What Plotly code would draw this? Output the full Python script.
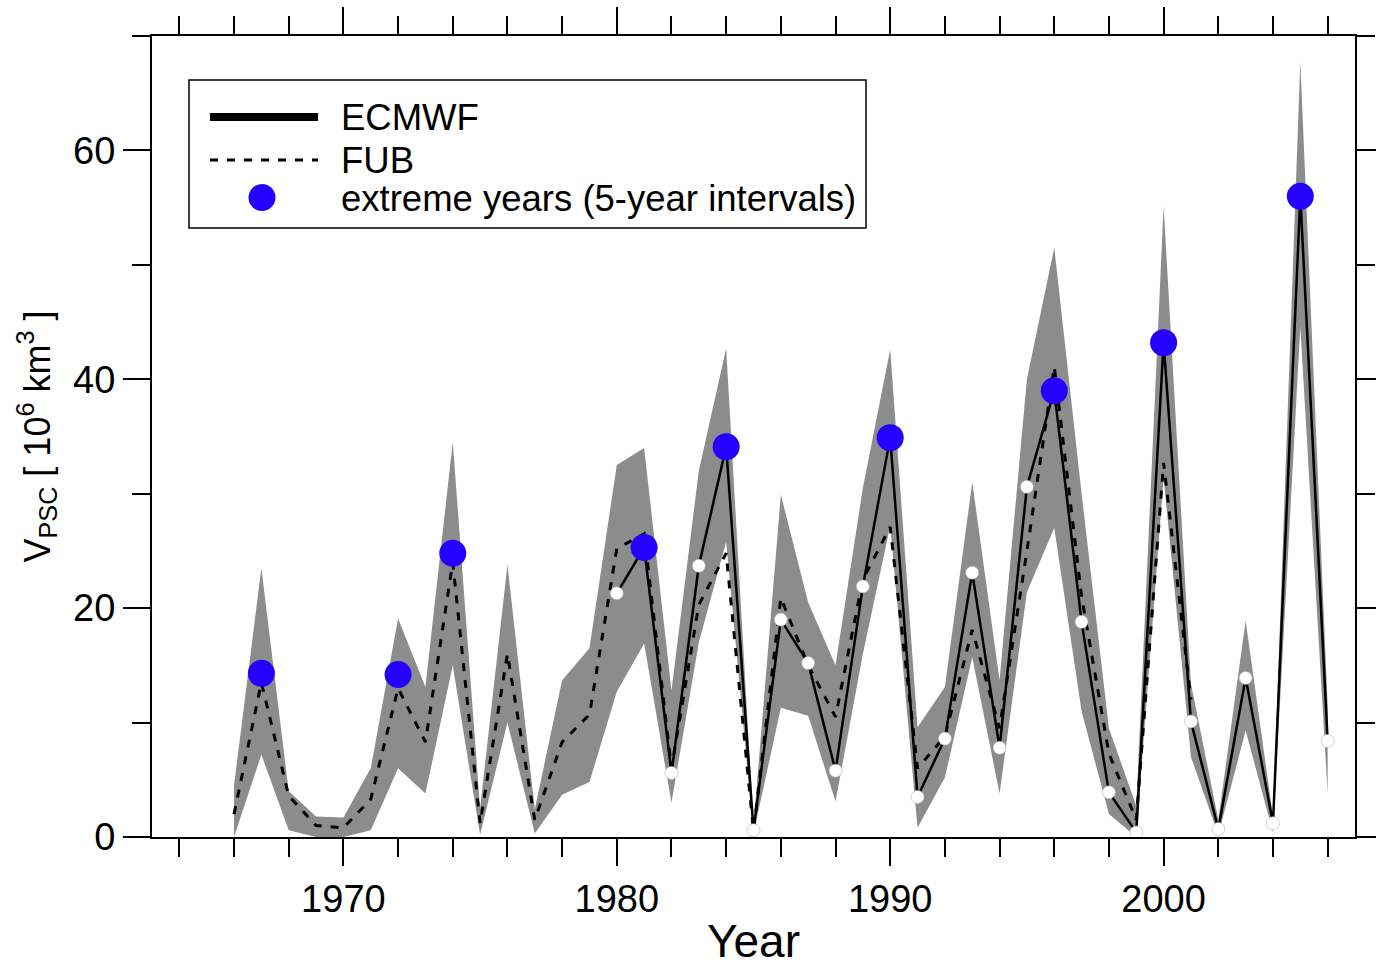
import plotly.graph_objects as go

# ---------------- data ----------------
band_years = list(range(1966, 2007))
band_upper = [4.5, 23.5, 4.0, 1.8, 1.7, 6.0, 19.1, 13.1, 34.5, 2.5,
              23.8, 2.4, 13.7, 16.5, 32.5, 34.0, 12.8, 32.0, 42.7, 1.0,
              29.9, 20.5, 15.0, 30.5, 42.6, 9.6, 13.1, 31.0, 13.7, 40.0,
              51.5, 30.0, 9.5, 2.7, 55.1, 13.4, 1.5, 18.9, 1.8, 67.7, 11.5]
band_lower = [0.0, 7.2, 0.6, 0.0, 0.0, 0.6, 6.0, 3.8, 15.0, 0.2,
              10.0, 0.3, 3.7, 4.8, 12.7, 16.9, 3.0, 17.0, 25.8, 0.3,
              11.3, 10.6, 3.1, 16.0, 27.2, 0.8, 5.2, 15.7, 3.8, 21.4,
              27.0, 11.0, 2.0, 0.0, 31.4, 7.0, 0.2, 9.3, 0.4, 44.6, 3.8]

fub_years = list(range(1966, 2002))
fub_values = [2.0, 13.5, 3.6, 1.0, 0.8, 3.3, 13.0, 8.3, 24.0, 1.2,
              16.0, 1.5, 8.3, 10.7, 25.2, 26.5, 6.0, 20.3, 24.8, 0.5,
              20.9, 15.0, 10.5, 22.5, 27.1, 6.0, 8.8, 18.1, 9.5, 25.0,
              41.1, 21.0, 7.3, 1.5, 32.7, 12.0]

ecmwf_years = list(range(1980, 2007))
ecmwf_values = [21.3, 25.3, 5.6, 23.7, 34.1, 0.6, 19.0, 15.2, 5.8, 21.9,
                34.9, 3.5, 8.6, 23.1, 7.8, 30.6, 39.0, 18.8, 3.9, 0.4,
                43.2, 10.1, 0.7, 13.9, 1.2, 56.0, 8.4]

extreme_years = [1967, 1972, 1974, 1981, 1984, 1990, 1996, 2000, 2005]
extreme_values = [14.3, 14.2, 24.8, 25.3, 34.1, 34.9, 39.0, 43.2, 56.0]

x_tick_vals = [1970, 1980, 1990, 2000]
y_tick_vals = [0, 20, 40, 60]

legend_labels = ["ECMWF", "FUB", "extreme years (5-year intervals)"]

# ---------------- figure ----------------
FONT = "Liberation Sans, Arial, Helvetica, sans-serif"
BLUE = "#2600ff"
GRAY = "#8c8c8c"

fig = go.Figure()

# spread band
fig.add_trace(go.Scatter(x=band_years, y=band_lower, mode="lines",
                         line=dict(width=0, color=GRAY), showlegend=False,
                         hoverinfo="skip"))
fig.add_trace(go.Scatter(x=band_years, y=band_upper, mode="lines",
                         line=dict(width=0, color=GRAY), fill="tonexty",
                         fillcolor=GRAY, showlegend=False, hoverinfo="skip"))

# FUB dashed
fig.add_trace(go.Scatter(x=fub_years, y=fub_values, mode="lines", name="FUB",
                         line=dict(color="black", width=3, dash="8px,9px"),
                         showlegend=False))

# ECMWF solid
fig.add_trace(go.Scatter(x=ecmwf_years, y=ecmwf_values, mode="lines",
                         name="ECMWF", line=dict(color="black", width=2.5),
                         showlegend=False))

# white dots (non-extreme ECMWF years)
wx = [y for y in ecmwf_years if y not in extreme_years]
wy = [v for y, v in zip(ecmwf_years, ecmwf_values) if y not in extreme_years]
fig.add_trace(go.Scatter(x=wx, y=wy, mode="markers",
                         marker=dict(color="white", size=13,
                                     line=dict(color="#b0b0b0", width=0.6)),
                         showlegend=False))

# extreme years
fig.add_trace(go.Scatter(x=extreme_years, y=extreme_values, mode="markers",
                         name="extreme years (5-year intervals)",
                         marker=dict(color=BLUE, size=27, line=dict(width=0)),
                         showlegend=False))

# ---------------- manual legend ----------------
L, R, T, B = 152, 1355, 36, 837
W, H = R - L, B - T


def px(xp):
    return (xp - L) / W


def py(yp):
    return (B - yp) / H


shapes = [
    dict(type="rect", xref="paper", yref="paper", x0=px(189), x1=px(866),
         y0=py(228), y1=py(80), line=dict(color="black", width=1.5),
         fillcolor="white", layer="above"),
    dict(type="line", xref="paper", yref="paper", x0=px(210), x1=px(318),
         y0=py(117), y1=py(117), line=dict(color="black", width=8)),
    dict(type="line", xref="paper", yref="paper", x0=px(210), x1=px(318),
         y0=py(160), y1=py(160), line=dict(color="black", width=3, dash="8px,9px")),
    dict(type="circle", xref="paper", yref="paper", x0=px(248.5), x1=px(275.5),
         y0=py(211), y1=py(184), line=dict(width=0), fillcolor=BLUE),
]
annotations = []
for lab, yy in zip(legend_labels, [117, 160, 198]):
    annotations.append(dict(text=lab, xref="paper", yref="paper", x=px(339),
                            y=py(yy), xanchor="left", yanchor="middle",
                            showarrow=False,
                            font=dict(size=36.5, color="black", family=FONT)))

fig.update_layout(
    width=1376, height=967, autosize=False,
    margin=dict(l=L, r=1376 - R, t=T, b=967 - B, pad=0),
    paper_bgcolor="white", plot_bgcolor="white",
    font=dict(family=FONT, color="black"),
    shapes=shapes, annotations=annotations, showlegend=False,
    xaxis=dict(range=[1963, 2007], tickmode="array", tickvals=x_tick_vals,
               ticktext=[str(v) for v in x_tick_vals],
               ticks="outside", ticklen=27, tickwidth=2, tickcolor="black",
               minor=dict(dtick=2, tick0=1964, ticks="outside", ticklen=18,
                          tickwidth=2, tickcolor="black", showgrid=False),
               showline=True, linecolor="black", linewidth=2, mirror="ticks",
               showgrid=False, zeroline=False, automargin=False,
               tickfont=dict(size=38, family=FONT),
               title=dict(text="Year", font=dict(size=46, family=FONT), standoff=12)),
    yaxis=dict(range=[0, 70], tickmode="array", tickvals=y_tick_vals,
               ticktext=[str(v) for v in y_tick_vals],
               ticks="outside", ticklen=27, tickwidth=2, tickcolor="black",
               minor=dict(dtick=10, tick0=0, ticks="outside", ticklen=18,
                          tickwidth=2, tickcolor="black", showgrid=False),
               showline=True, linecolor="black", linewidth=2, mirror="ticks",
               showgrid=False, zeroline=False, automargin=False,
               tickfont=dict(size=38, family=FONT),
               title=dict(text="V<sub>PSC</sub> [ 10<sup>6</sup> km<sup>3</sup> ]",
                          font=dict(size=36, family=FONT), standoff=12)),
)

fig.write_html("out.html")
